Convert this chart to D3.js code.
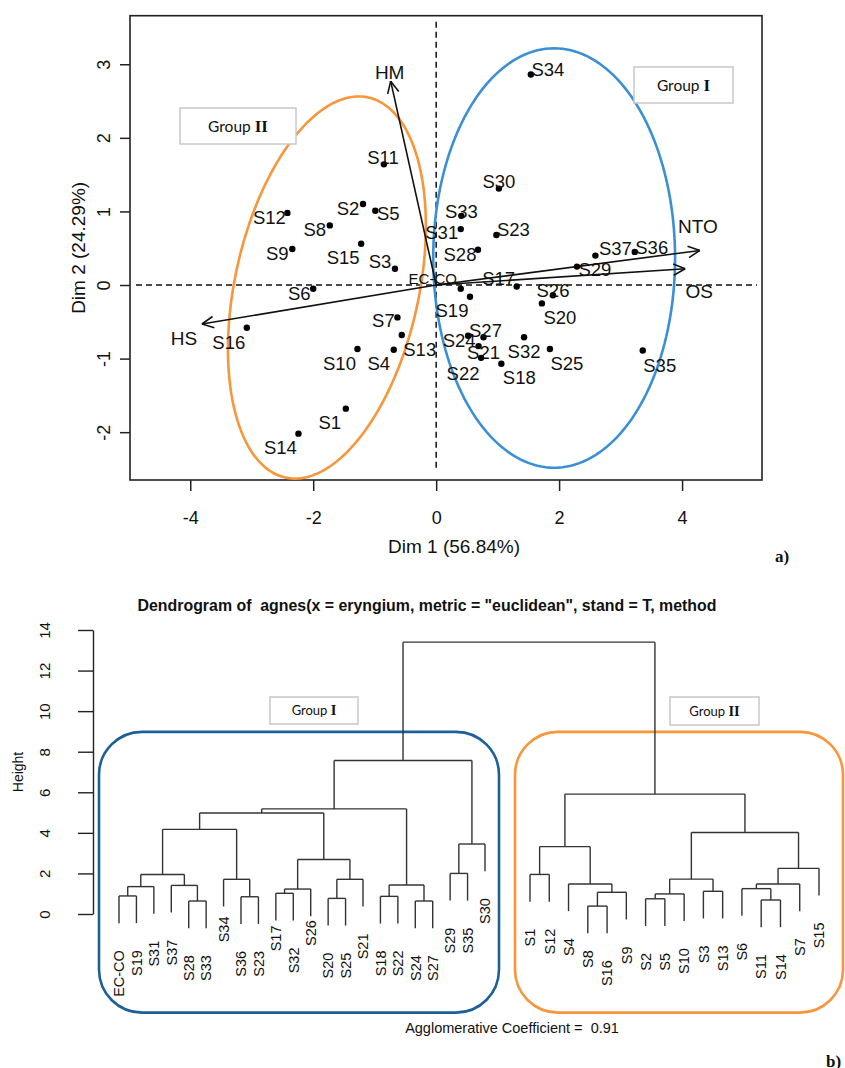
<!DOCTYPE html>
<html>
<head>
<meta charset="utf-8">
<script src="https://cdn.jsdelivr.net/npm/d3@7"></script>
<style>
  body { margin: 0; background: #fff; }
  text { font-family: "Liberation Sans", Arial, sans-serif; fill: #111; }
</style>
</head>
<body>
<svg id="chart" width="845" height="1068"></svg>
<script>
// ---------- a) PCA biplot ----------
const sampleNames = ["S1","S2","S3","S4","S5","S6","S7","S8","S9","S10","S11","S12","S13","S14","S15","S16",
  "S17","S18","S19","S20","S21","S22","S23","S24","S25","S26","S27","S28","S29","S30","S31","S32","S33",
  "S34","S35","S36","S37","EC-CO"];
const dim1 = [-1.47,-1.19,-0.67,-0.69,-0.99,-2.00,-0.63,-1.73,-2.34,-1.28,-0.85,-2.42,-0.56,-2.24,-1.22,-3.08,
  1.31,1.06,0.55,1.72,0.69,0.73,0.98,0.52,1.85,1.90,0.77,0.68,2.29,1.02,0.40,1.43,0.41,
  1.54,3.36,3.23,2.59,0.40];
const dim2 = [-1.68,1.10,0.22,-0.88,1.01,-0.05,-0.44,0.81,0.49,-0.87,1.64,0.98,-0.68,-2.02,0.56,-0.58,
  -0.02,-1.07,-0.16,-0.25,-0.83,-0.99,0.68,-0.69,-0.87,-0.14,-0.71,0.48,0.25,1.31,0.76,-0.71,0.94,
  2.86,-0.89,0.45,0.40,-0.05];

const varNames = ["HM", "NTO", "OS", "HS"];
const varDim1 = [-0.74, 4.29, 4.05, -3.81];
const varDim2 = [2.77, 0.47, 0.22, -0.53];

const xTicks = [-4, -2, 0, 2, 4];
const yTicks = [-2, -1, 0, 1, 2, 3];

// group ellipses: centre and two semi-axis vectors (data units)
const ellipseCenters = [[-1.777, -0.034], [1.919, 0.367]];
const ellipseAxisA = [[0.673, 2.583], [0, 2.85]];
const ellipseAxisB = [[1.462, -0.267], [1.967, 0]];

// ---------- b) dendrogram ----------
// merge list in hclust style: number = earlier merge, string = leaf
const merges = [
  ["EC-CO", "S19", 0.89], [0, "S31", 1.35], ["S28", "S33", 0.64], ["S37", 2, 1.41], [1, 3, 1.95],
  ["S36", "S23", 0.85], ["S34", 5, 1.71], [4, 6, 4.17], ["S17", "S32", 1.02], [8, "S26", 1.23],
  ["S20", "S25", 0.77], [10, "S21", 1.71], [9, 11, 2.69], [7, 12, 4.98], ["S18", "S22", 0.87],
  ["S24", "S27", 0.64], [14, 15, 1.43], [13, 16, 5.18], ["S29", "S35", 2.0], [18, "S30", 3.45],
  [17, 19, 7.57],
  ["S1", "S12", 1.95], ["S8", "S16", 0.39], [22, "S9", 1.07], ["S4", 23, 1.48], [21, 24, 3.32],
  ["S2", "S5", 0.75], [26, "S10", 0.99], ["S3", "S13", 1.12], [27, 28, 1.72], ["S11", "S14", 0.69],
  ["S6", 30, 1.25], [31, "S7", 1.48], [32, "S15", 2.25], [29, 33, 4.02], [25, 34, 5.91],
  [20, 35, 13.4]
];
const heightTicks = [0, 2, 4, 6, 8, 10, 12, 14];
const agglomerativeCoef = 0.91;

// label placement (pixel nudges, style only)
const labelOffset = {
  S1:[-16,14], S2:[-15,4], S3:[-15,-7], S4:[-15,14], S5:[13,3], S6:[-14,5], S7:[-14,3], S8:[-15,4],
  S9:[-15,4], S10:[-18,14], S11:[-1,-7], S12:[-18,4], S13:[18,14], S14:[-18,14], S15:[-18,14],
  S16:[-18,15], S17:[-18,-8], S18:[18,14], S19:[-18,14], S20:[18,14], S21:[5,6], S22:[-18,15],
  S23:[17,-6], S24:[-9,5], S25:[17,14], S26:[0,-5], S27:[2,-7], S28:[-18,5], S29:[18,3], S30:[0,-7],
  S31:[-19,3], S32:[0,14], S33:[0,-5], S34:[17,-5], S35:[17,15], S36:[17,-5], S37:[20,-7], "EC-CO":[-28,-10]
};
const varLabelOffset = { HM:[-1,-9], NTO:[-2,-24], OS:[14,22], HS:[-18,14] };
const leafLabelNudge = { S26:-23, S17:-22, S34:-17, S8:-10 };

const orange = "#f7963b", bluePca = "#3b8fd4", blueDen = "#1d5f98";

const svg = d3.select("#chart");

// ================= PCA =================
const x = d3.scaleLinear().domain([-4.98, 5.30]).range([130, 762]);
const y = d3.scaleLinear().domain([-2.65, 3.66]).range([480, 15.7]);
const pca = svg.append("g");
const plainFmt = d => String(d);   // R prints ASCII hyphen, not unicode minus

// x axis
pca.append("g")
  .attr("transform", `translate(0,${y.range()[0]})`)
  .call(d3.axisBottom(x).tickValues(xTicks).tickSize(11).tickPadding(20).tickFormat(plainFmt))
  .call(g => g.select(".domain").remove())
  .call(g => g.selectAll("line").attr("stroke", "#222").attr("stroke-width", 1.5))
  .call(g => g.selectAll("text").attr("font-size", 18).attr("fill", "#111")
    .style("font-family", "Liberation Sans, Arial, sans-serif"));

// y axis, labels turned like R
pca.append("g")
  .attr("transform", `translate(${x.range()[0]},0)`)
  .call(d3.axisLeft(y).tickValues(yTicks).tickSize(10).tickFormat(plainFmt))
  .call(g => g.select(".domain").remove())
  .call(g => g.selectAll("line").attr("stroke", "#222").attr("stroke-width", 1.5))
  .call(g => g.selectAll("text")
    .attr("x", 0).attr("dy", "0.36em").attr("text-anchor", "middle")
    .attr("transform", "translate(-26,0) rotate(-90)")
    .attr("font-size", 18).attr("fill", "#111")
    .style("font-family", "Liberation Sans, Arial, sans-serif"));

// box
pca.append("rect")
  .attr("x", x.range()[0]).attr("y", y.range()[1])
  .attr("width", x.range()[1] - x.range()[0]).attr("height", y.range()[0] - y.range()[1])
  .attr("fill", "none").attr("stroke", "#222").attr("stroke-width", 1.6);

// dashed zero lines
pca.append("line")
  .attr("x1", x(0)).attr("x2", x(0)).attr("y1", y.range()[1] + 6).attr("y2", y.range()[0] - 10)
  .attr("stroke", "#111").attr("stroke-width", 1.5).attr("stroke-dasharray", "6,4");
pca.append("line")
  .attr("x1", x.range()[0] + 6).attr("x2", x.range()[1] - 5).attr("y1", y(0)).attr("y2", y(0))
  .attr("stroke", "#111").attr("stroke-width", 1.5).attr("stroke-dasharray", "6,4");

// ellipses
const ellipseLine = d3.line().curve(d3.curveLinearClosed);
ellipseCenters.forEach((c, i) => {
  const a = ellipseAxisA[i], b = ellipseAxisB[i];
  const pts = d3.range(0, 2 * Math.PI, Math.PI / 90).map(t => [
    x(c[0] + a[0] * Math.cos(t) + b[0] * Math.sin(t)),
    y(c[1] + a[1] * Math.cos(t) + b[1] * Math.sin(t))
  ]);
  pca.append("path").attr("d", ellipseLine(pts))
    .attr("fill", "none").attr("stroke", i === 0 ? orange : bluePca).attr("stroke-width", 2.6);
});

// variable arrows
varNames.forEach((v, i) => {
  const x1 = x(varDim1[i]), y1 = y(varDim2[i]);
  const ang = Math.atan2(y1 - y(0), x1 - x(0));
  pca.append("line")
    .attr("x1", x(0)).attr("y1", y(0)).attr("x2", x1).attr("y2", y1)
    .attr("stroke", "#111").attr("stroke-width", 1.6);
  [0.45, -0.45].forEach(da => {
    pca.append("line")
      .attr("x1", x1).attr("y1", y1)
      .attr("x2", x1 - 13 * Math.cos(ang + da)).attr("y2", y1 - 13 * Math.sin(ang + da))
      .attr("stroke", "#111").attr("stroke-width", 1.6);
  });
  const o = varLabelOffset[v];
  pca.append("text").attr("x", x1 + o[0]).attr("y", y1 + o[1])
    .attr("text-anchor", "middle").attr("dy", "0.36em").attr("font-size", 19).text(v);
});

// points and labels
sampleNames.forEach((s, i) => {
  const px = x(dim1[i]), py = y(dim2[i]);
  pca.append("circle").attr("cx", px).attr("cy", py).attr("r", 3.2).attr("fill", "#000");
  const o = labelOffset[s];
  pca.append("text").attr("x", px + o[0]).attr("y", py + o[1])
    .attr("text-anchor", "middle").attr("dy", "0.36em")
    .attr("font-size", s === "EC-CO" ? 15 : 18.5).text(s);
});

// group label boxes
function groupBox(g, x0, y0, w, h, roman, size) {
  g.append("rect").attr("x", x0).attr("y", y0).attr("width", w).attr("height", h)
    .attr("fill", "#fff").attr("stroke", "#c8c8c8").attr("stroke-width", 1.5);
  const t = g.append("text").attr("x", x0 + w / 2).attr("y", y0 + h / 2)
    .attr("dy", "0.36em").attr("text-anchor", "middle")
    .style("font-family", "Lato, 'Open Sans', sans-serif").attr("font-size", size);
  t.append("tspan").text("Group ");
  t.append("tspan").text(roman).attr("font-weight", "bold")
    .style("font-family", "'Liberation Serif', serif").attr("font-size", size + 1.5);
}
groupBox(pca, 180, 108, 116, 36, "II", 15.5);
groupBox(pca, 634, 67, 99, 36, "I", 15.5);

// axis titles
pca.append("text").attr("x", 454).attr("y", 553).attr("text-anchor", "middle")
  .attr("font-size", 19).text("Dim 1 (56.84%)");
pca.append("text").attr("transform", `translate(85,${(y.range()[0] + y.range()[1]) / 2}) rotate(-90)`)
  .attr("text-anchor", "middle").attr("font-size", 19).text("Dim 2 (24.29%)");

svg.append("text").attr("x", 775).attr("y", 562).attr("font-size", 17).attr("font-weight", "bold")
  .style("font-family", "'Liberation Serif', serif").text("a)");

// ================= Dendrogram =================
const den = svg.append("g");
const yH = d3.scaleLinear().domain([0, 14]).range([914, 630]);
const hang = 1.34;

const leaves = [];
(function collect(c) {
  if (typeof c === "string") leaves.push(c);
  else { collect(merges[c][0]); collect(merges[c][1]); }
})(merges.length - 1);

const nGroupI = 22;
const leafX = d3.scaleLinear()
  .domain([0, nGroupI - 1, nGroupI, leaves.length - 1])
  .range([119, 485, 530, 819]);

// rounded group frames
den.append("rect")
  .attr("x", leafX(0) - 20).attr("y", yH(8.98))
  .attr("width", leafX(nGroupI - 1) + 14 - (leafX(0) - 20)).attr("height", yH(-4.86) - yH(8.98))
  .attr("rx", 43).attr("fill", "none").attr("stroke", blueDen).attr("stroke-width", 2.6);
den.append("rect")
  .attr("x", leafX(nGroupI) - 15).attr("y", yH(8.98))
  .attr("width", leafX(leaves.length - 1) + 24 - (leafX(nGroupI) - 15)).attr("height", yH(-4.86) - yH(8.98))
  .attr("rx", 43).attr("fill", "none").attr("stroke", orange).attr("stroke-width", 2.6);

const segs = [];
const leafEnd = {};
function place(c, parentH) {
  if (typeof c === "string") {
    const lx = leafX(leaves.indexOf(c));
    leafEnd[c] = parentH - hang;
    segs.push([lx, parentH, lx, parentH - hang]);
    return lx;
  }
  const [l, r, h] = merges[c];
  const xl = place(l, h), xr = place(r, h);
  segs.push([xl, h, xr, h]);
  if (typeof l !== "string") segs.push([xl, h, xl, merges[l][2]]);
  if (typeof r !== "string") segs.push([xr, h, xr, merges[r][2]]);
  return (xl + xr) / 2;
}
place(merges.length - 1, merges[merges.length - 1][2]);

den.selectAll("line.seg").data(segs).join("line").attr("class", "seg")
  .attr("x1", d => d[0]).attr("y1", d => yH(d[1]))
  .attr("x2", d => d[2]).attr("y2", d => yH(d[3]))
  .attr("stroke", "#333").attr("stroke-width", 1.4);

// leaf labels
den.selectAll("text.leaf").data(leaves).join("text").attr("class", "leaf")
  .attr("transform", d => `translate(${leafX(leaves.indexOf(d))},${yH(leafEnd[d]) + 27 + (leafLabelNudge[d] || 0)}) rotate(-90)`)
  .attr("text-anchor", "end").attr("dy", "0.36em").attr("font-size", 14.5).text(d => d);

// height axis
den.append("g")
  .attr("transform", "translate(93,0)")
  .call(d3.axisLeft(yH).tickValues(heightTicks).tickSize(15).tickSizeOuter(0))
  .call(g => g.select(".domain").attr("stroke", "#222").attr("stroke-width", 1.4))
  .call(g => g.selectAll("line").attr("stroke", "#222").attr("stroke-width", 1.4))
  .call(g => g.selectAll("text")
    .attr("x", 0).attr("dy", "0.36em").attr("text-anchor", "middle")
    .attr("transform", "translate(-48,0) rotate(-90)")
    .attr("font-size", 15).attr("fill", "#111")
    .style("font-family", "Liberation Sans, Arial, sans-serif"));

den.append("text").attr("transform", "translate(18,772) rotate(-90)")
  .attr("text-anchor", "middle").attr("dy", "0.36em").attr("font-size", 14).text("Height");

den.append("text").attr("x", 427).attr("y", 611).attr("text-anchor", "middle")
  .attr("font-size", 15.9).attr("font-weight", "bold").style("white-space", "pre")
  .text('Dendrogram of  agnes(x = eryngium, metric = "euclidean", stand = T, method');

den.append("text").attr("x", 512).attr("y", 1033).attr("text-anchor", "middle")
  .attr("font-size", 14.5).style("white-space", "pre")
  .text(`Agglomerative Coefficient =  ${agglomerativeCoef.toFixed(2)}`);

groupBox(den, 270, 697, 88, 27, "I", 13);
groupBox(den, 670, 697, 89, 28, "II", 13);

svg.append("text").attr("x", 826).attr("y", 1067).attr("font-size", 17).attr("font-weight", "bold")
  .style("font-family", "'Liberation Serif', serif").text("b)");
</script>
</body>
</html>
